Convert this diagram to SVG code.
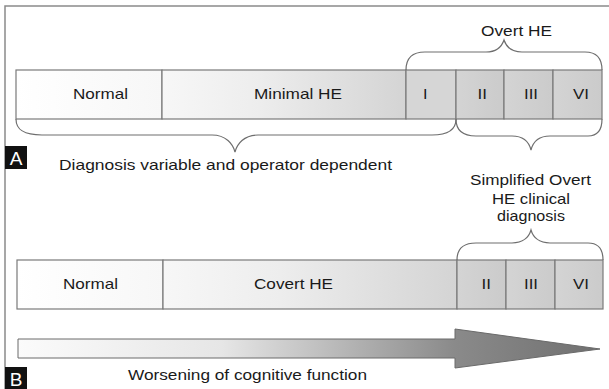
<svg xmlns="http://www.w3.org/2000/svg" width="609" height="389" viewBox="0 0 609 389">
<defs>
<linearGradient id="gMin" x1="0" y1="0" x2="1" y2="0">
<stop offset="0" stop-color="#f7f7f7"/><stop offset="0.4" stop-color="#ededed"/><stop offset="1" stop-color="#d4d4d4"/>
</linearGradient>
<linearGradient id="gNorm" x1="0" y1="0" x2="1" y2="0">
<stop offset="0" stop-color="#ffffff"/><stop offset="1" stop-color="#f7f7f7"/>
</linearGradient>
<linearGradient id="gGrade" x1="0" y1="0" x2="1" y2="0">
<stop offset="0" stop-color="#d4d4d4"/><stop offset="1" stop-color="#cbcbcb"/>
</linearGradient>
<linearGradient id="gArrow" gradientUnits="userSpaceOnUse" x1="18" y1="0" x2="600" y2="0">
<stop offset="0" stop-color="#fbfbfb"/><stop offset="0.35" stop-color="#e6e6e6"/><stop offset="0.75" stop-color="#8a8a8a"/><stop offset="1" stop-color="#707070"/>
</linearGradient>
<style>
.cell{stroke:#7a7a7a;stroke-width:1.2}
.t{font-family:"Liberation Sans",Arial,sans-serif;font-size:15px;fill:#1a1a1a}
.c{text-anchor:middle}
.br{fill:none;stroke:#6e6e6e;stroke-width:1.2}
.lab{font-family:"Liberation Sans",Arial,sans-serif;font-size:19px;fill:#ffffff;text-anchor:middle}
</style>
</defs>
<rect x="0" y="0" width="609" height="389" fill="#ffffff"/>
<path d="M5,389 V6 H609" fill="none" stroke="#8a8a8a" stroke-width="1.5"/>

<g id="rowA">
<rect class="cell" x="16" y="70" width="146" height="49" fill="url(#gNorm)"/>
<rect class="cell" x="162" y="70" width="244" height="49" fill="url(#gMin)"/>
<rect class="cell" x="406" y="70" width="50" height="49" fill="#d6d6d6"/>
<rect class="cell" x="456" y="70" width="48" height="49" fill="url(#gGrade)"/>
<rect class="cell" x="504" y="70" width="49" height="49" fill="url(#gGrade)"/>
<rect class="cell" x="553" y="70" width="49" height="49" fill="url(#gGrade)"/>
<text class="t" x="73" y="99" textLength="55" lengthAdjust="spacingAndGlyphs">Normal</text>
<text class="t" x="254" y="99" textLength="88" lengthAdjust="spacingAndGlyphs">Minimal HE</text>
<text class="t" x="423" y="99" textLength="4.5" lengthAdjust="spacingAndGlyphs">I</text>
<text class="t" x="477.5" y="99" textLength="9.5" lengthAdjust="spacingAndGlyphs">II</text>
<text class="t" x="524" y="99" textLength="14" lengthAdjust="spacingAndGlyphs">III</text>
<text class="t" x="573" y="99" textLength="16" lengthAdjust="spacingAndGlyphs">VI</text>
</g>

<g id="rowB">
<rect class="cell" x="17" y="260" width="146" height="49" fill="url(#gNorm)"/>
<rect class="cell" x="163" y="260" width="294" height="49" fill="url(#gMin)"/>
<rect class="cell" x="457" y="260" width="49" height="49" fill="url(#gGrade)"/>
<rect class="cell" x="506" y="260" width="49" height="49" fill="url(#gGrade)"/>
<rect class="cell" x="555" y="260" width="48" height="49" fill="url(#gGrade)"/>
<text class="t" x="63" y="289" textLength="55" lengthAdjust="spacingAndGlyphs">Normal</text>
<text class="t" x="254" y="289" textLength="79" lengthAdjust="spacingAndGlyphs">Covert HE</text>
<text class="t" x="481.5" y="289" textLength="9.5" lengthAdjust="spacingAndGlyphs">II</text>
<text class="t" x="524" y="289" textLength="14" lengthAdjust="spacingAndGlyphs">III</text>
<text class="t" x="573" y="289" textLength="16" lengthAdjust="spacingAndGlyphs">VI</text>
</g>

<g id="braces">
<path class="br" d="M16,119 C16,130 24,135 42,135 L212,135 C226,135 233,144 235,152 C237,144 244,135 258,135 L432,135 C448,135 456,130 456,119"/>
<path class="br" d="M456,119 C456,130 462,136 476,136 L512,136 C523,136 529,142 531,150 C533,142 539,136 550,136 L588,136 C598,136 602,130 602,119"/>
<path class="br" d="M406,70 C406,58 412,52 425,52 L486,52 C497,52 502,46 504,40 C506,46 511,52 522,52 L585,52 C597,52 602,58 602,70"/>
<path class="br" d="M457,260 C457,249 463,243 476,243 L512,243 C523,243 529,237 531,230 C533,237 539,243 550,243 L588,243 C598,243 603,249 603,260"/>
</g>

<g id="arrow">
<path d="M18,339 H455 V329 L600,349 L455,368 V358 H18 Z" fill="url(#gArrow)" stroke="#6a6a6a" stroke-width="1"/>
</g>

<g id="labels">
<text class="t" x="481" y="36" textLength="71" lengthAdjust="spacingAndGlyphs">Overt HE</text>
<text class="t" x="59" y="170" textLength="333" lengthAdjust="spacingAndGlyphs">Diagnosis variable and operator dependent</text>
<text class="t" x="470" y="185" textLength="121" lengthAdjust="spacingAndGlyphs">Simplified Overt</text>
<text class="t" x="492" y="204" textLength="78" lengthAdjust="spacingAndGlyphs">HE clinical</text>
<text class="t" x="497" y="221" textLength="68" lengthAdjust="spacingAndGlyphs">diagnosis</text>
<text class="t" x="128" y="380" textLength="239" lengthAdjust="spacingAndGlyphs">Worsening of cognitive function</text>
</g>

<g id="panelA">
<rect x="5" y="146" width="22" height="23" fill="#111111"/>
<text class="lab" x="16" y="165">A</text>
</g>
<g id="panelB">
<rect x="5" y="367" width="22" height="22" fill="#111111"/>
<text class="lab" x="16" y="386">B</text>
</g>
</svg>
